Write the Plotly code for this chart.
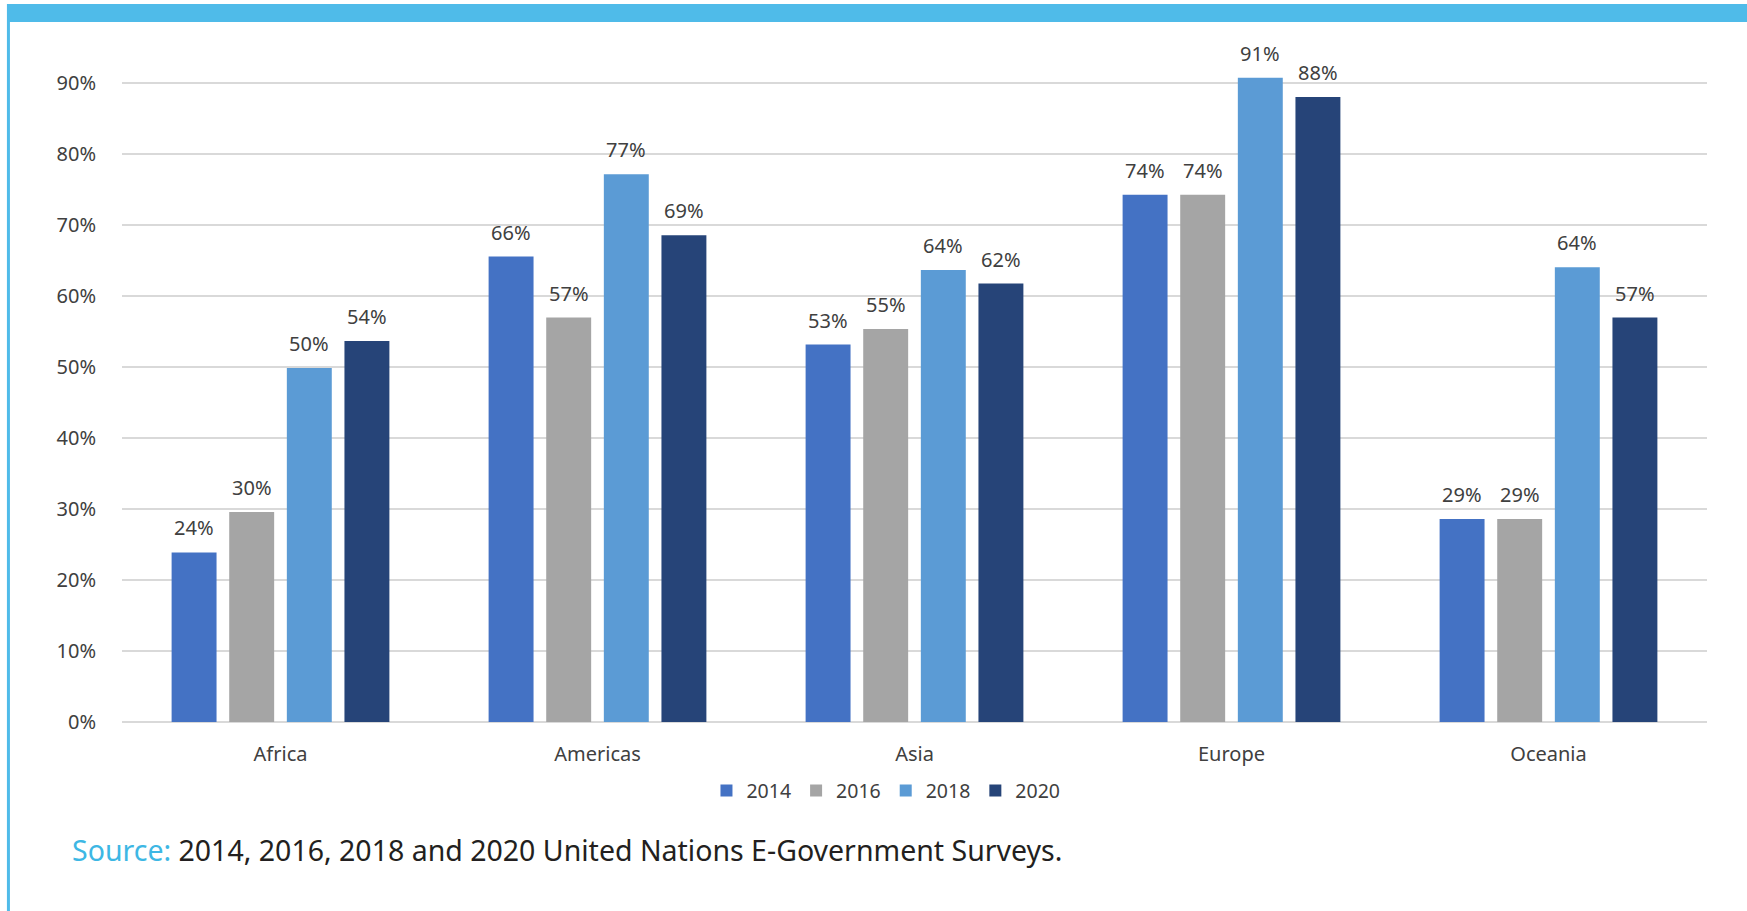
import plotly.graph_objects as go

regions = ["Africa", "Americas", "Asia", "Europe", "Oceania"]
years = ["2014", "2016", "2018", "2020"]
values = {
    "2014": [0.239, 0.656, 0.532, 0.743, 0.286],
    "2016": [0.296, 0.570, 0.554, 0.743, 0.286],
    "2018": [0.499, 0.772, 0.637, 0.908, 0.641],
    "2020": [0.537, 0.686, 0.618, 0.881, 0.570],
}
colors = {"2014": "#4472C4", "2016": "#A5A5A5", "2018": "#5B9BD5", "2020": "#264478"}
ytickvals = [0, 0.1, 0.2, 0.3, 0.4, 0.5, 0.6, 0.7, 0.8, 0.9]
yticktext = ["0%", "10%", "20%", "30%", "40%", "50%", "60%", "70%", "80%", "90%"]

FONT = "Noto Sans"
TXT = "#404040"
BARGAP = 0.273

fig = go.Figure()
for y in years:
    fig.add_trace(go.Bar(x=regions, y=values[y], name=y, marker_color=colors[y],
                         marker_line_width=0))

# data labels
slot = (1 - BARGAP) / len(years)
anns = []
for k, y in enumerate(years):
    off = (k - (len(years) - 1) / 2) * slot
    for i, v in enumerate(values[y]):
        anns.append(dict(x=i + off, y=v, xref="x", yref="y", text=f"{round(v*100)}%",
                         showarrow=False, yanchor="bottom", yshift=9,
                         font=dict(family=FONT, size=20, color=TXT)))

anns.append(dict(xref="paper", yref="paper", x=-0.0328, y=-0.190, xanchor="left", yanchor="middle",
                 showarrow=False,
                 text="<span style='color:#3DB7E4'>Source:</span> 2014, 2016, 2018 and 2020 United Nations E-Government Surveys.",
                 font=dict(family=FONT, size=28.5, color="#231F20")))

frame_col = "#4FBBE9"
shapes = [
    dict(type="rect", xref="paper", yref="paper", x0=-0.0726, x1=1.03, y0=1.0386, y1=1.0653,
         fillcolor=frame_col, line_width=0, layer="below"),
    dict(type="rect", xref="paper", yref="paper", x0=-0.0726, x1=-0.0707, y0=-0.30, y1=1.0386,
         fillcolor=frame_col, line_width=0, layer="below"),
]

fig.update_layout(
    width=1747, height=911,
    margin=dict(l=122, r=40, t=48, b=189, autoexpand=False),
    paper_bgcolor="white", plot_bgcolor="white",
    barmode="group", bargap=BARGAP, bargroupgap=0.22,
    font=dict(family=FONT, size=20, color=TXT),
    legend=dict(orientation="h", x=0.482, xanchor="center", y=-0.102, yanchor="middle",
                font=dict(family=FONT, size=19.5, color=TXT), itemwidth=30, tracegroupgap=0,
                traceorder="normal"),
    annotations=anns, shapes=shapes,
    showlegend=True,
)
fig.update_xaxes(type="category", showgrid=False, showline=False, zeroline=False,
                 ticks="outside", ticklen=14, tickcolor="rgba(0,0,0,0)",
                 tickfont=dict(family=FONT, size=20, color=TXT))
fig.update_yaxes(range=[0, 0.95], tickvals=ytickvals, ticktext=yticktext,
                 showgrid=True, gridcolor="#D9D9D9", gridwidth=2, zeroline=True,
                 zerolinecolor="#D9D9D9", zerolinewidth=2, showline=False,
                 ticks="outside", ticklen=21, tickcolor="rgba(0,0,0,0)",
                 tickfont=dict(family=FONT, size=20, color=TXT))

fig.write_html("out.html")
